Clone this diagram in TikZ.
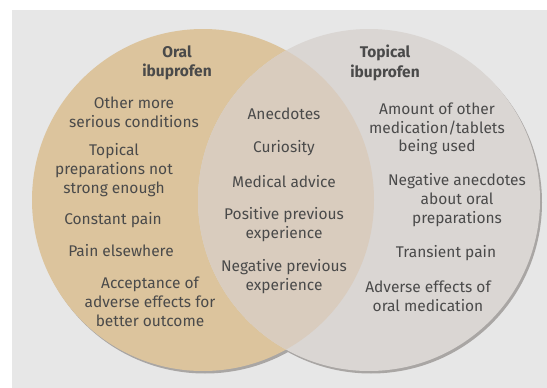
\documentclass[tikz,border=0pt]{standalone}
\usepackage{fontspec}
\setmainfont{Fira Sans}
\definecolor{bgc}{HTML}{E7E7E7}
\definecolor{tanc}{HTML}{DCC49D}
\definecolor{greyc}{HTML}{DAD6D3}
\definecolor{lensc}{HTML}{D9CCBE}
\definecolor{shadc}{HTML}{A9A6A4}
\definecolor{txtc}{HTML}{4A4A4A}
\tikzset{
  item/.style={align=center, text=txtc, font=\fontsize{15.5}{18.8}\selectfont, inner sep=0pt},
  ttl/.style={item, font=\fontsize{15.5}{19.5}\selectfont\bfseries},
}
\begin{document}
\begin{tikzpicture}[x=1pt,y=-1pt]
\useasboundingbox (0,0) rectangle (547,388);
\fill[white] (0,0) rectangle (547,388);
\fill[bgc] (12,10) rectangle (547,388);
% shadows
\fill[shadc] (205,202.5) circle (171);
\fill[shadc] (371,202.5) circle (171);
% circles
\fill[tanc] (203,200) circle (171);
\fill[greyc] (369,200) circle (171);
\begin{scope}
\clip (203,200) circle (171);
\fill[lensc] (369,200) circle (171);
\end{scope}
% titles
\node[ttl] (oral) at (177,63) {Oral\\ibuprofen};
\node[ttl] (topical) at (385,63) {Topical\\ibuprofen};
% left
\node[item] (l1) at (134,112) {Other more\\serious conditions};
\node[item] (l2) at (114,170) {Topical\\preparations not\\strong enough};
\node[item] (l3) at (113,220) {Constant pain};
\node[item] (l4) at (121,251) {Pain elsewhere};
\node[item] (l5) at (150,302) {Acceptance of\\adverse effects for\\better outcome};
% middle
\node[item] (m1) at (284,114) {Anecdotes};
\node[item] (m2) at (284,148) {Curiosity};
\node[item] (m3) at (284,182) {Medical advice};
\node[item] (m4) at (284,225) {Positive previous\\experience};
\node[item] (m5) at (284,277) {Negative previous\\experience};
% right
\node[item] (r1) at (437,129) {Amount of other\\medication/tablets\\being used};
\node[item] (r2) at (457,200) {Negative anecdotes\\about oral\\preparations};
\node[item] (r3) at (446,253) {Transient pain};
\node[item] (r4) at (428,296) {Adverse effects of\\oral medication};
\end{tikzpicture}
\end{document}
